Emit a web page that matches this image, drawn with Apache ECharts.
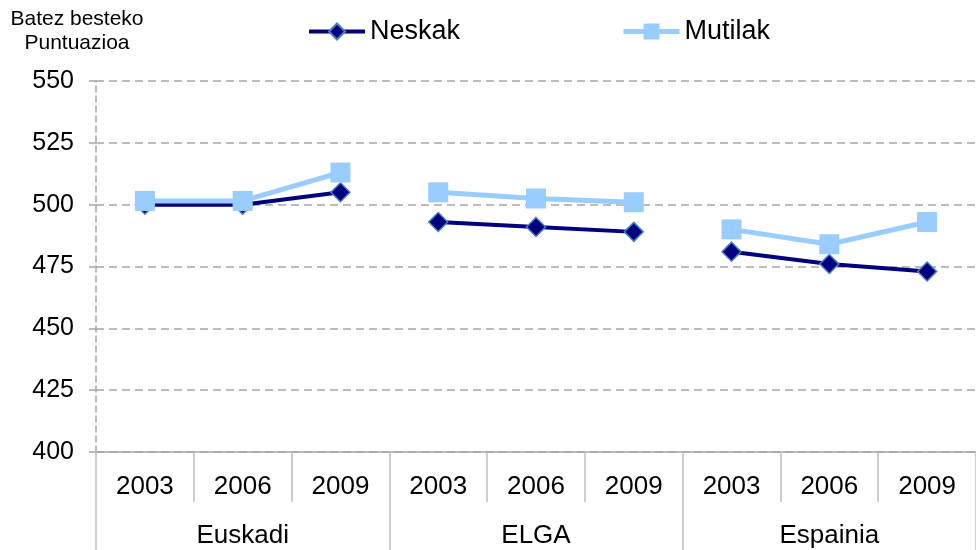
<!DOCTYPE html>
<html>
<head>
<meta charset="utf-8">
<script src="https://cdn.jsdelivr.net/npm/echarts@6/dist/echarts.min.js"></script>
<style>
  html, body { margin: 0; padding: 0; background: #fff; }
  #chart { width: 976px; height: 550px; }
</style>
</head>
<body>
<div id="chart"></div>
<script>
var years = ['2003', '2006', '2009', '2003', '2006', '2009', '2003', '2006', '2009'];
var groups = ['Euskadi', 'ELGA', 'Espainia'];
var neskak = [500, 500, 505, 493, 491, 489, 481, 476, 473];
var mutilak = [501.5, 501.5, 513, 505, 502.5, 501, 490, 484, 493];
var yTicks = { min: 400, max: 550, step: 25 };

var font = 'Liberation Sans, Arial, sans-serif';

// one series per group so the line breaks between groups
function groupSlice(values, g) {
    return values.map(function(v, i) {
        return Math.floor(i / 3) == g ? v : '-';
    });
}

var series = [];
groups.forEach(function(grp, g) {
    series.push({
        name: 'Neskak', type: 'line', z: 2,
        data: groupSlice(neskak, g),
        symbol: 'diamond', symbolSize: 19,
        lineStyle: {color: '#000080', width: 4},
        itemStyle: {color: '#000080', borderColor: '#4A7EBB', borderWidth: 1.5}
    });
});
groups.forEach(function(grp, g) {
    series.push({
        name: 'Mutilak', type: 'line', z: 3,
        data: groupSlice(mutilak, g),
        symbol: 'rect', symbolSize: 20,
        lineStyle: {color: '#99CCFF', width: 5},
        itemStyle: {color: '#99CCFF', borderWidth: 0}
    });
});

var chart = echarts.init(document.getElementById('chart'));
chart.setOption({
    animation: false,
    textStyle: {fontFamily: font},
    grid: {left: 96, right: -7, top: 81, bottom: 98},
    legend: {
        data: [
            {name: 'Neskak', lineStyle: {width: 4, color: '#000080'}},
            {name: 'Mutilak', lineStyle: {width: 5, color: '#99CCFF'}}
        ],
        left: 302, top: 13,
        itemWidth: 56, itemHeight: 20, itemGap: 161,
        textStyle: {fontSize: 27, color: '#000', fontFamily: font}
    },
    graphic: [{
        type: 'text', x: 77, y: 7,
        style: {
            text: 'Batez besteko\nPuntuazioa',
            font: '21px ' + font, fill: '#000',
            align: 'center', lineHeight: 24
        }
    }],
    xAxis: [{
        type: 'category', data: years, position: 'bottom',
        boundaryGap: true,
        axisLine: {show: true, lineStyle: {color: '#A6A6A6', width: 1.5}},
        axisTick: {show: true, interval: 0, length: 50, lineStyle: {color: '#BFBFBF', width: 1.5}},
        axisLabel: {interval: 0, fontSize: 26, color: '#000', margin: 22}
    }, {
        type: 'category', data: groups, position: 'bottom',
        boundaryGap: true,
        axisLine: {show: false},
        axisTick: {show: true, interval: 0, length: 98, lineStyle: {color: '#BFBFBF', width: 1.5}},
        axisLabel: {interval: 0, fontSize: 26, color: '#000', margin: 71}
    }],
    yAxis: {
        type: 'value', min: yTicks.min, max: yTicks.max, interval: yTicks.step,
        axisLine: {show: true, lineStyle: {color: '#A6A6A6', type: [6, 4], width: 1.5}},
        axisTick: {show: true, length: 7, lineStyle: {color: '#A6A6A6', width: 1.5}},
        axisLabel: {fontSize: 25, color: '#000', margin: 22},
        splitLine: {show: true, lineStyle: {color: '#A6A6A6', type: [8, 5], width: 1.5}}
    },
    series: series
});
</script>
</body>
</html>
